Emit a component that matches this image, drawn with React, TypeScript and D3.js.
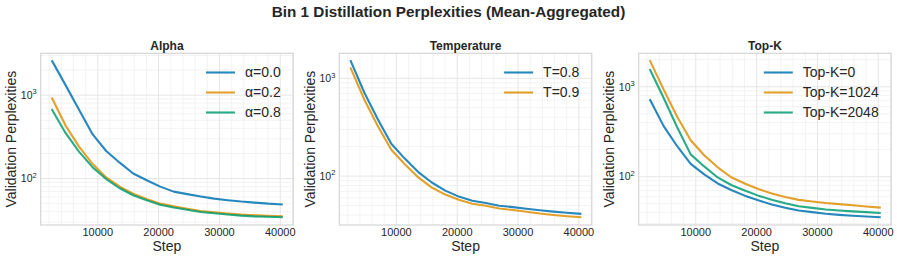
import { useEffect, useRef } from 'react'
import * as d3 from 'd3'

// Training steps (shared by all runs)
const STEPS = [
  2500, 4720, 6940, 9160, 11380, 13600, 15820, 18040, 20260,
  22480, 24700, 26920, 29140, 31360, 33580, 35800, 38020, 40240,
]

// Alpha sweep
const ALPHA_00 = [2560, 1310, 665, 338, 214, 155, 115, 95.5, 80, 69.7, 65, 61, 57.5, 55, 53, 51.5, 50, 49]
const ALPHA_02 = [912, 430, 240, 149, 103, 80, 65.7, 57, 50, 46.4, 43.4, 40.8, 39.4, 38, 36.9, 36.2, 35.7, 35.3]
const ALPHA_08 = [665, 350, 209, 136, 98.6, 76.5, 63, 55, 48.6, 45, 42.2, 39.7, 38.3, 37, 35.9, 35.2, 34.8, 34.4]

// Temperature sweep
const TEMP_08 = [1500, 716, 382, 214, 151, 110, 86, 71, 61.7, 56, 53, 49.8, 48.2, 46.4, 44.7, 43.3, 42.2, 41.2]
const TEMP_09 = [1265, 607, 326, 186, 132, 97, 76.4, 64.7, 57.2, 52.2, 49.7, 46.7, 45, 43.2, 41.4, 40, 38.9, 38]

// Top-K sweep
const TOPK_0 = [711, 365, 218, 139, 106, 84, 71, 61.5, 54.5, 49, 45, 42, 40.3, 38.6, 37.6, 36.8, 36.1, 35.4]
const TOPK_1024 = [1930, 930, 465, 254, 173, 127, 98.5, 84, 73, 64.9, 59.3, 55.2, 53, 51, 49.5, 48, 46.6, 45.3]
const TOPK_2048 = [1535, 750, 355, 177, 130, 98, 80.7, 70, 61.5, 55.5, 50.5, 46.9, 44.9, 43.2, 42, 41.1, 40.3, 39.5]

const TITLES = ['Alpha', 'Temperature', 'Top-K']
const ALPHA_LABELS = ['α=0.0', 'α=0.2', 'α=0.8']
const TEMP_LABELS = ['T=0.8', 'T=0.9']
const TOPK_LABELS = ['Top-K=0', 'Top-K=1024', 'Top-K=2048']

const COLORS = ['#0173B2', '#DE8F05', '#029E73']
const FONT = '"Liberation Sans", Arial, sans-serif'
const TEXT = '#262626'

const W = 897
const H = 259
const PANEL_X = [40.7, 339.3, 638.7]
const PANEL_W = 252.5
const TOP = 53.3
const BOTTOM = 225

export default function App() {
  const svgRef = useRef<SVGSVGElement>(null)

  useEffect(() => {
    if (!svgRef.current) return
    const svg = d3.select(svgRef.current)
    svg.selectAll('*').remove()

    const panels = [
      { title: TITLES[0], series: [ALPHA_00, ALPHA_02, ALPHA_08].map((v, i) => ({ label: ALPHA_LABELS[i], values: v })) },
      { title: TITLES[1], series: [TEMP_08, TEMP_09].map((v, i) => ({ label: TEMP_LABELS[i], values: v })) },
      { title: TITLES[2], series: [TOPK_0, TOPK_1024, TOPK_2048].map((v, i) => ({ label: TOPK_LABELS[i], values: v })) },
    ]

    svg.append('rect').attr('width', W).attr('height', H).attr('fill', '#fff')

    svg.append('text')
      .attr('x', W / 2).attr('y', 16.5)
      .attr('text-anchor', 'middle')
      .attr('font-family', FONT).attr('font-size', 15.3).attr('font-weight', 'bold')
      .attr('fill', TEXT)
      .text('Bin 1 Distillation Perplexities (Mean-Aggregated)')

    // matplotlib-like 5% margins
    const [x0, x1] = d3.extent(STEPS) as [number, number]
    const xPad = (x1 - x0) * 0.05

    panels.forEach((p, pi) => {
      const left = PANEL_X[pi]
      const right = left + PANEL_W
      const g = svg.append('g')

      const x = d3.scaleLinear().domain([x0 - xPad, x1 + xPad]).range([left, right])

      const all = p.series.flatMap((s) => s.values)
      const lmin = Math.log10(d3.min(all) as number)
      const lmax = Math.log10(d3.max(all) as number)
      const lpad = (lmax - lmin) * 0.05
      const y = d3.scaleLog().domain([10 ** (lmin - lpad), 10 ** (lmax + lpad)]).range([BOTTOM, TOP])
      const [yd0, yd1] = y.domain()

      // Minor grid
      const xMinor = d3.range(2000, x1 + xPad, 2000).filter((v) => v % 10000 !== 0 && v > x0 - xPad)
      g.selectAll(null).data(xMinor).join('line')
        .attr('x1', (d) => x(d)).attr('x2', (d) => x(d))
        .attr('y1', TOP).attr('y2', BOTTOM)
        .attr('stroke', '#f0f0f0').attr('stroke-width', 0.8)

      const yMinor: number[] = []
      for (let k = 0; k < 5; k++) {
        for (let m = 2; m <= 9; m++) {
          const v = m * 10 ** k
          if (v > yd0 && v < yd1) yMinor.push(v)
        }
      }
      g.selectAll(null).data(yMinor).join('line')
        .attr('x1', left).attr('x2', right)
        .attr('y1', (d) => y(d)).attr('y2', (d) => y(d))
        .attr('stroke', '#f0f0f0').attr('stroke-width', 0.8)

      // Major grid
      const xMajor = [10000, 20000, 30000, 40000]
      g.selectAll(null).data(xMajor).join('line')
        .attr('x1', (d) => x(d)).attr('x2', (d) => x(d))
        .attr('y1', TOP).attr('y2', BOTTOM)
        .attr('stroke', '#e6e6e6').attr('stroke-width', 1)

      const yMajor = [10, 100, 1000, 10000].filter((v) => v > yd0 && v < yd1)
      g.selectAll(null).data(yMajor).join('line')
        .attr('x1', left).attr('x2', right)
        .attr('y1', (d) => y(d)).attr('y2', (d) => y(d))
        .attr('stroke', '#e6e6e6').attr('stroke-width', 1)

      // Lines
      const line = d3.line<number>()
        .x((_, i) => x(STEPS[i]))
        .y((d) => y(d))
      p.series.forEach((s, si) => {
        g.append('path')
          .attr('d', line(s.values))
          .attr('fill', 'none')
          .attr('stroke', COLORS[si])
          .attr('stroke-opacity', 0.85)
          .attr('stroke-width', 2.1)
          .attr('stroke-linejoin', 'round')
          .attr('stroke-linecap', 'square')
      })

      // Frame
      g.append('rect')
        .attr('x', left).attr('y', TOP)
        .attr('width', PANEL_W).attr('height', BOTTOM - TOP)
        .attr('fill', 'none').attr('stroke', '#d5d5d5').attr('stroke-width', 1.2)

      // X tick labels
      g.selectAll(null).data(xMajor).join('text')
        .attr('x', (d) => x(d)).attr('y', 236)
        .attr('text-anchor', 'middle')
        .attr('font-family', FONT).attr('font-size', 11).attr('fill', TEXT)
        .text((d) => String(d))

      // Y tick labels (10^k)
      yMajor.forEach((v) => {
        const t = g.append('text')
          .attr('x', left - 4).attr('y', y(v) + 3.8)
          .attr('text-anchor', 'end')
          .attr('font-family', FONT).attr('font-size', 10.5).attr('fill', TEXT)
        t.append('tspan').text('10')
        t.append('tspan').attr('font-size', 7.5).attr('dy', -4.5).text(String(Math.round(Math.log10(v))))
      })

      // Axis labels
      g.append('text')
        .attr('x', (left + right) / 2).attr('y', 250.5)
        .attr('text-anchor', 'middle')
        .attr('font-family', FONT).attr('font-size', 14).attr('fill', TEXT)
        .text('Step')

      g.append('text')
        .attr('transform', `translate(${left - 24.5},${(TOP + BOTTOM) / 2}) rotate(-90)`)
        .attr('text-anchor', 'middle')
        .attr('font-family', FONT).attr('font-size', 14).attr('fill', TEXT)
        .text('Validation Perplexities')

      // Subplot title
      g.append('text')
        .attr('x', (left + right) / 2).attr('y', 49.5)
        .attr('text-anchor', 'middle')
        .attr('font-family', FONT).attr('font-size', 12).attr('font-weight', 'bold')
        .attr('fill', TEXT)
        .text(p.title)

      // Legend (right aligned)
      const lg = g.append('g')
      const texts = p.series.map((s, si) => lg.append('text')
        .attr('y', 72.5 + si * 20)
        .attr('dy', '0.35em')
        .attr('font-family', FONT).attr('font-size', 14).attr('fill', TEXT)
        .text(s.label))
      const maxW = d3.max(texts, (t) => (t.node() as SVGTextElement).getComputedTextLength()) ?? 40
      const textX = right - 12.5 - maxW
      texts.forEach((t) => t.attr('x', textX))
      p.series.forEach((_, si) => {
        lg.append('line')
          .attr('x1', textX - 39).attr('x2', textX - 10)
          .attr('y1', 72.5 + si * 20).attr('y2', 72.5 + si * 20)
          .attr('stroke', COLORS[si]).attr('stroke-opacity', 0.85).attr('stroke-width', 2.1)
      })
    })
  }, [])

  return (
    <svg
      ref={svgRef}
      width={W}
      height={H}
      style={{ position: 'absolute', left: 0, top: 0, display: 'block' }}
    />
  )
}
